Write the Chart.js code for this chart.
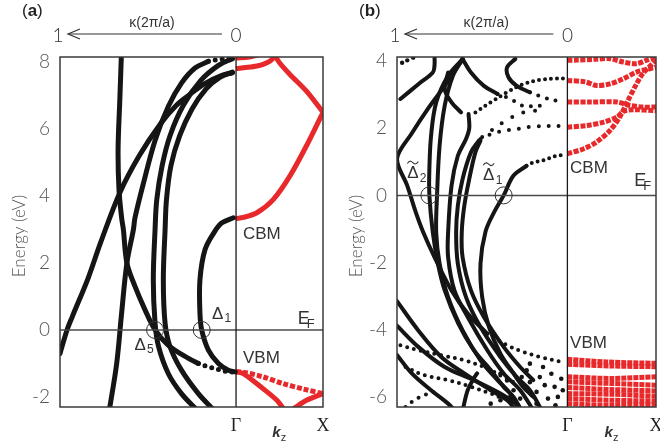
<!DOCTYPE html>
<html>
<head>
<meta charset="utf-8">
<script src="https://cdn.jsdelivr.net/npm/chart.js@4.4.1/dist/chart.umd.min.js"></script>
<style>
  html, body { margin:0; padding:0; background:#ffffff; }
  #wrap { position:relative; width:660px; height:448px; overflow:hidden; background:#fff; }
  #wrap canvas { position:absolute; top:0; }
</style>
</head>
<body>
<div id="wrap">
  <canvas id="chartA" width="330" height="448" style="left:0"></canvas>
  <canvas id="chartB" width="330" height="448" style="left:330px"></canvas>
</div>
<script>
// ================= Tick labels =================
const aTicksE = [-2, 0, 2, 4, 6, 8];
const bTicksE = [-6, -4, -2, 0, 2, 4];
const kzLabels = ['Γ', 'X'];

// ================= Panel (a) – complex bands, [kappa (2π/a), E (eV)] =================
const aLine1   = [[1,-0.7],[0.96,0],[0.93,0.4],[0.84,1.55],[0.77,2.6],[0.66,4.1],[0.55,5.2],[0.43,6.15],[0.34,6.7],[0.27,7.0],[0.18,7.35],[0.08,7.6],[0.02,7.68]];
const aBand2   = [[0.65,8.4],[0.66,6.9],[0.67,5.4],[0.665,4.2],[0.65,3.35],[0.64,3.0],[0.62,2.0],[0.574,1.3],[0.517,0.6],[0.46,0],[0.386,-0.45],[0.27,-0.85],[0.214,-1.0]];
const aBand2Dots = [[0.214,-1.0],[0.157,-1.1],[0.10,-1.18],[0.044,-1.25],[0.017,-1.26]];
const aBand3   = [[0.72,-2.4],[0.678,-1.0],[0.65,0.5],[0.62,2.0],[0.583,3.0],[0.574,3.35],[0.527,4.36],[0.46,5.66],[0.385,6.67],[0.31,7.37],[0.233,7.82],[0.157,8.02]];
const aBand3Dots = [[0.157,8.02],[0.11,8.07],[0.06,8.1],[0.02,8.12]];
const aBand4   = [[0.22,-2.4],[0.31,-1.9],[0.385,-1.3],[0.44,-0.5],[0.46,0.2],[0.47,1.5],[0.46,3.0],[0.45,3.9],[0.42,4.9],[0.375,5.8],[0.30,6.7],[0.2,7.45],[0.1,7.9],[0.02,8.1]];
const aBand5   = [[0.125,-2.4],[0.214,-1.9],[0.31,-1.2],[0.375,-0.5],[0.403,0.2],[0.413,1.5],[0.403,3.0],[0.395,3.9],[0.37,4.9],[0.32,5.8],[0.25,6.6],[0.17,7.2],[0.09,7.55],[0.02,7.7]];
const aDelta1  = [[0.015,3.35],[0.08,3.2],[0.12,2.95],[0.176,2.4],[0.205,1.5],[0.205,0.5],[0.195,0],[0.157,-0.6],[0.1,-1.0],[0.044,-1.2],[0.005,-1.25]];
// Panel (a) – real bands Γ→X, [kz (fraction of Γ-X), E (eV)]
const aCBM     = [[0,3.33],[0.084,3.36],[0.24,3.5],[0.43,3.9],[0.62,4.6],[0.81,5.5],[1,6.5]];
const aUpper1  = [[1,6.5],[0.81,7.13],[0.62,7.63],[0.5,7.98],[0.43,8.25]];
const aUpper2  = [[0,7.8],[0.084,7.83],[0.24,7.88],[0.39,8.03],[0.5,8.3]];
const aUpper3  = [[0,8.12],[0.15,8.15],[0.3,8.25]];
const aVBM1    = [[0,-1.25],[0.084,-1.26],[0.31,-1.4],[0.54,-1.6],[0.77,-1.76],[1,-1.9]];
const aVBM2    = [[1,-1.9],[0.81,-2.1],[0.66,-2.35]];
const aVBM3    = [[0,-1.25],[0.084,-1.3],[0.31,-1.75],[0.47,-2.1],[0.56,-2.4]];

// ================= Panel (b) – complex bands, [kappa, E] =================
const bTopLeft   = [[0.98,2.87],[0.875,3.31],[0.79,3.66],[0.78,3.86],[0.78,4.2]];
const bTopDots   = [[0.97,3.95],[0.94,4.02],[0.905,4.1]];
const bVertex    = [[0.615,4.06],[0.64,3.86],[0.72,3.26],[0.82,2.57],[0.91,1.87],[1,1.08],[0.94,0.29],[0.89,-0.5],[0.846,-1.1],[0.78,-1.84],[0.68,-2.83],[0.585,-3.52],[0.47,-4.12]];
const bVertexDots= [[0.47,-4.12],[0.354,-4.46],[0.26,-4.66],[0.16,-4.81],[0.03,-4.96]];
const bDelta2    = [[0.615,4.06],[0.70,3.56],[0.77,2.77],[0.80,1.78],[0.81,0.78],[0.81,0],[0.79,-1.1],[0.76,-2.03],[0.72,-2.83],[0.64,-3.82],[0.55,-4.6],[0.45,-5.2],[0.374,-5.7],[0.316,-6.0],[0.27,-6.4]];
const bFan0      = [[0.615,4.06],[0.672,3.56],[0.72,2.67],[0.75,1.48],[0.765,0],[0.77,-1.1],[0.75,-2.03],[0.70,-3.03],[0.615,-4.02],[0.51,-4.91],[0.41,-5.5],[0.335,-5.9],[0.28,-6.4]];
const bArc       = [[0.70,3.66],[0.72,3.16],[0.68,2.77],[0.624,2.47]];
const bFan1      = [[0.58,2.42],[0.576,2.0],[0.595,1.68],[0.643,1.18],[0.68,0.29],[0.70,-1.1],[0.70,-1.84],[0.663,-2.83],[0.585,-3.62],[0.47,-4.61],[0.374,-5.3],[0.277,-5.8],[0.2,-6.4]];
const bFan2      = [[0.52,1.63],[0.566,1.28],[0.615,0.49],[0.643,-0.31],[0.653,-1.1],[0.643,-2.03],[0.595,-3.03],[0.51,-3.92],[0.393,-4.81],[0.297,-5.41],[0.22,-5.8],[0.15,-6.4]];
const bFan3      = [[0.51,1.63],[0.54,1.28],[0.576,0.49],[0.605,-0.31],[0.62,-1.1],[0.615,-1.84],[0.566,-2.83],[0.49,-3.62],[0.374,-4.51],[0.277,-5.11],[0.2,-5.5]];
const bDots1     = [[0.54,2.47],[0.45,2.77],[0.354,3.07],[0.26,3.31],[0.16,3.44],[0.065,3.48],[0.02,3.48]];
const bDots2     = [[0.51,1.68],[0.45,1.82],[0.393,1.9],[0.335,1.95],[0.277,1.99],[0.2,2.05],[0.017,2.07]];
const bDots3     = [[0.50,1.74],[0.36,2.23],[0.25,2.48],[0.16,2.53]];
const bLoop      = [[0.306,4.06],[0.354,3.81],[0.345,3.51],[0.297,3.26],[0.22,3.07]];
const bLoopDots  = [[0.22,3.07],[0.143,2.92],[0.027,2.77]];
const bPeak      = [[0.615,4.06],[0.566,3.66],[0.49,3.26],[0.41,3.02]];
const bPeakDots  = [[0.41,3.02],[0.335,2.87],[0.26,2.67],[0.14,2.67]];
const bDelta1    = [[0.24,0.88],[0.316,0.59],[0.374,0],[0.43,-0.5],[0.48,-1.07],[0.51,-2.03],[0.5,-3.03],[0.46,-3.92],[0.393,-4.71],[0.316,-5.3],[0.26,-5.7],[0.2,-6.0]];
const bDelta1Dots= [[0.24,0.88],[0.2,0.98],[0.14,1.05],[0.065,1.18],[0.02,1.2]];
const bLow1      = [[1,-3.15],[0.875,-4.02],[0.74,-4.81],[0.605,-5.3],[0.45,-5.8],[0.354,-6.1],[0.3,-6.4]];
const bLow2      = [[1,-3.88],[0.875,-4.51],[0.72,-5.11],[0.55,-5.5],[0.393,-5.9],[0.3,-6.2]];
const bLow3Dots  = [[0.98,-4.46],[0.875,-4.61],[0.74,-4.76],[0.605,-4.91],[0.49,-5.11],[0.374,-5.41],[0.3,-5.6]];
const bLow4      = [[1,-4.75],[0.913,-5.3],[0.8,-5.8],[0.70,-6.2],[0.66,-6.4]];
const bLow5Dots  = [[0.95,-5.11],[0.836,-5.36],[0.70,-5.5],[0.566,-5.7],[0.45,-5.9],[0.38,-6.05]];
const bLow6Dots  = [[0.95,-6.3],[0.90,-6.1],[0.84,-5.95],[0.78,-5.85]];
const bLow7      = [[0.53,-5.3],[0.55,-5.45],[0.585,-5.8],[0.615,-6.4]];
const bScatter   = [[0.393,-5.31],[0.354,-5.51],[0.316,-5.8],[0.277,-6.05],[0.239,-5.21],[0.22,-5.56],[0.181,-5.85],[0.162,-5.41],[0.133,-5.65],[0.114,-6.05],[0.094,-5.31],[0.075,-5.7],[0.056,-6.0],[0.036,-5.46],[0.027,-5.8],[0.143,-5.11],[0.22,-5.01],[0.268,-5.41],[0.335,-6.0],[0.393,-6.1],[0.45,-6.2],[0.181,-6.2],[0.07,-6.25],[0.29,-6.25]];
// Panel (b) – real bands Γ→X, [kz, E]
const bR1 = [[0,4.02],[0.11,4.03],[0.3,4.05],[0.48,4.07],[0.63,3.97],[0.78,3.92],[0.89,4.02],[1,4.12]];
const bR2 = [[0,3.42],[0.2,3.38],[0.33,3.27],[0.48,3.32],[0.63,3.47],[0.78,3.67],[0.93,3.77],[1,3.82]];
const bR3 = [[0,2.78],[0.26,2.78],[0.56,2.78],[0.70,2.68],[0.85,2.63],[1,2.63]];
const bR4 = [[0,2.03],[0.22,2.08],[0.41,2.18],[0.56,2.33],[0.63,2.5],[0.74,2.55],[1,2.52]];
const bR5 = [[0,1.24],[0.185,1.39],[0.33,1.59],[0.48,1.93],[0.59,2.33],[0.685,2.83],[0.78,3.32],[0.85,3.62],[0.96,3.92],[1,4.02]];
const bV1 = [[0,-4.88],[0.44,-4.96],[1,-5.0]];
const bV2 = [[0,-5.03],[0.5,-5.08],[1,-5.1]];
const bV3 = [[0,-5.4],[0.5,-5.45],[1,-5.4]];
const bV4 = [[0,-5.55],[0.5,-5.6],[1,-5.65]];
const bV5 = [[0,-5.72],[0.5,-5.78],[1,-5.82]];
const bV6 = [[0,-5.9],[0.5,-5.92],[1,-5.98]];
const bV7 = [[0,-6.05],[0.5,-6.1],[1,-6.12]];
const bV8 = [[0,-6.2],[0.5,-6.25],[1,-6.22]];

// ================= helpers =================
const BLACK = '#151515', RED = '#e8292b';
const left  = pts => pts.map(p => ({x: -p[0], y: p[1]}));
const right = (pts, r) => pts.map(p => ({x: p[0] * r, y: p[1]}));
function solid(d, w){ return {data:d, showLine:true, borderColor:BLACK, borderWidth:w, pointRadius:0, tension:0.35, borderCapStyle:'round', borderJoinStyle:'round', clip:0}; }
function dotted(d, w, gap){ return {data:d, showLine:true, borderColor:BLACK, borderWidth:w, borderDash:[0, gap], borderCapStyle:'round', pointRadius:0, tension:0.35, clip:0}; }
function redLine(d, w, dash){ return {data:d, showLine:true, borderColor:RED, borderWidth:w, borderDash:dash||[], pointRadius:0, tension:0.3, borderCapStyle:'butt', clip:0}; }
function dots(d, r){ return {data:d, showLine:false, pointRadius:r, pointBackgroundColor:BLACK, pointBorderWidth:0, clip:0}; }

function subText(ctx, x, y, main, sub, size, subSize, dx, dy){
  ctx.font = size + 'px "Liberation Sans", Arial, sans-serif';
  ctx.textAlign = 'center'; ctx.textBaseline = 'middle';
  ctx.fillText(main, x, y);
  ctx.font = subSize + 'px "Liberation Sans", Arial, sans-serif';
  ctx.textAlign = 'left';
  ctx.fillText(sub, x + dx, y + dy);
}

const annot = {
  id: 'annot',
  afterDatasetsDraw(chart, args, o){
    const ctx = chart.ctx, ca = chart.chartArea, xs = chart.scales.x, ys = chart.scales.y;
    const gx = xs.getPixelForValue(0), ey = ys.getPixelForValue(0);
    ctx.save();
    ctx.strokeStyle = '#4a4a4a'; ctx.lineWidth = 1.5;
    ctx.beginPath(); ctx.moveTo(ca.left, ey); ctx.lineTo(ca.right, ey); ctx.stroke();
    ctx.strokeStyle = '#1a1a1a'; ctx.lineWidth = 1.3;
    ctx.beginPath(); ctx.moveTo(gx, ca.top); ctx.lineTo(gx, ca.bottom); ctx.stroke();
    ctx.strokeStyle = '#3a3a3a'; ctx.lineWidth = 1.5;
    ctx.strokeRect(ca.left, ca.top, ca.right - ca.left, ca.bottom - ca.top);
    ctx.strokeStyle = '#333'; ctx.lineWidth = 1;
    o.circles.forEach(k => { ctx.beginPath(); ctx.arc(xs.getPixelForValue(-k), ey, 8.5, 0, Math.PI*2); ctx.stroke(); });
    ctx.restore();
  },
  afterDraw(chart, args, o){
    const ctx = chart.ctx, ca = chart.chartArea, xs = chart.scales.x, ys = chart.scales.y;
    const gx = xs.getPixelForValue(0), x1 = xs.getPixelForValue(-1);
    ctx.save();
    ctx.fillStyle = '#333'; ctx.strokeStyle = '#333';
    // Δ labels
    o.deltas.forEach(d => {
      const x = xs.getPixelForValue(-d.k), y = ys.getPixelForValue(d.e);
      ctx.fillStyle = '#333';
      subText(ctx, x, y, 'Δ', d.sub, 17, 12, 7, 5);
      if (d.tilde){
        ctx.lineWidth = 1.1; ctx.beginPath();
        ctx.moveTo(x - 5.5, y - 10);
        ctx.bezierCurveTo(x - 3, y - 14, x - 1, y - 12, x, y - 11);
        ctx.bezierCurveTo(x + 1, y - 10, x + 3, y - 8, x + 5.5, y - 12);
        ctx.stroke();
      }
    });
    // CBM / VBM / E_F
    ctx.fillStyle = '#333';
    ctx.font = '17px "Liberation Sans", Arial, sans-serif';
    ctx.textAlign = 'left'; ctx.textBaseline = 'middle';
    o.texts.forEach(t => {
      ctx.fillText(t.s, xs.getPixelForValue(t.kz * o.rMax), ys.getPixelForValue(t.e));
    });
    const efx = xs.getPixelForValue(o.ef.kz * o.rMax), efy = ys.getPixelForValue(o.ef.e);
    ctx.font = '18px "Liberation Sans", Arial, sans-serif';
    ctx.fillText('E', efx, efy);
    ctx.font = '13px "Liberation Sans", Arial, sans-serif';
    ctx.fillText('F', efx + 9, efy + 5);
    // k_z
    const kx = xs.getPixelForValue(0.5 * o.rMax);
    ctx.font = 'italic bold 15px "Liberation Sans", Arial, sans-serif';
    ctx.textAlign = 'center';
    ctx.fillText('k', kx - 3, ca.bottom + 26);
    ctx.font = '11px "Liberation Sans", Arial, sans-serif';
    ctx.fillText('z', kx + 4, ca.bottom + 31);
    // y title
    ctx.save();
    ctx.translate(ca.left - 40, (ca.top + ca.bottom)/2 + 4);
    ctx.rotate(-Math.PI/2);
    ctx.fillStyle = '#555';
    ctx.font = '300 17px Lato, "Liberation Sans", sans-serif';
    ctx.textAlign = 'center'; ctx.textBaseline = 'middle';
    ctx.fillText('Energy (eV)', 0, 0);
    ctx.restore();
    // header (a)/(b)
    ctx.fillStyle = '#222'; ctx.textBaseline = 'middle'; ctx.textAlign = 'left';
    let hx = ca.left - 38;
    ctx.font = '17px "Liberation Sans", Arial, sans-serif';
    ctx.fillText('(', hx, 11); hx += ctx.measureText('(').width;
    ctx.font = 'bold 17px "Liberation Sans", Arial, sans-serif';
    ctx.fillText(o.letter, hx, 11); hx += ctx.measureText(o.letter).width;
    ctx.font = '17px "Liberation Sans", Arial, sans-serif';
    ctx.fillText(')', hx, 11);
    // kappa arrow
    ctx.fillStyle = '#333'; ctx.textAlign = 'center';
    ctx.font = '300 19px Lato, "Liberation Sans", sans-serif';
    ctx.fillText('1', x1 - 2, 36);
    ctx.fillText('0', gx, 36);
    ctx.font = '14px "Liberation Sans", Arial, sans-serif';
    ctx.fillText('κ(2π/a)', (x1 + gx)/2 + 4, 23);
    ctx.strokeStyle = '#333'; ctx.lineWidth = 1.2;
    const ax0 = x1 + 8, ax1 = gx - 14;
    ctx.beginPath(); ctx.moveTo(ax0, 34); ctx.lineTo(ax1, 34); ctx.stroke();
    ctx.beginPath(); ctx.moveTo(ax0 + 12, 29); ctx.lineTo(ax0, 34); ctx.lineTo(ax0 + 12, 39); ctx.stroke();
    ctx.restore();
  }
};

function makeChart(id, p){
  return new Chart(document.getElementById(id), {
    type: 'scatter',
    data: { datasets: p.datasets },
    plugins: [annot],
    options: {
      responsive: false, maintainAspectRatio: false, animation: false, events: [],
      layout: { padding: { top: 57, right: p.padRight, left: 0, bottom: 0 } },
      plugins: { legend: { display: false }, tooltip: { enabled: false }, annot: p.annot },
      scales: {
        x: {
          type: 'linear', min: -1, max: p.rMax,
          grid: { display: false, drawTicks: false }, border: { display: false },
          afterBuildTicks: s => { s.ticks = [{value: 0}, {value: p.rMax}]; },
          afterFit: s => { s.height = 41; s.paddingLeft = 0; s.paddingRight = 0; },
          ticks: {
            autoSkip: false, maxRotation: 0, padding: 8, color: '#222',
            font: { family: '"Liberation Serif", "DejaVu Serif", serif', size: 18 },
            callback: v => (v === 0 ? kzLabels[0] : kzLabels[1])
          }
        },
        y: {
          type: 'linear', min: p.yMin, max: p.yMax,
          grid: { display: false, drawTicks: false }, border: { display: false },
          afterBuildTicks: s => { s.ticks = p.ticks.map(v => ({value: v})); },
          afterFit: s => { s.width = p.axisW; s.paddingTop = 0; s.paddingBottom = 0; },
          ticks: { padding: 10, color: '#555', font: { family: 'Lato, "Liberation Sans", sans-serif', size: 19, weight: '300' } }
        }
      }
    }
  });
}

// ================= Panel (a) =================
const rA = 0.494;
const wA = 5;
makeChart('chartA', {
  rMax: rA, yMin: -2.3, yMax: 8.15, axisW: 60, padRight: 7, ticks: aTicksE,
  datasets: [
    solid(left(aLine1), wA), solid(left(aBand2), wA), dotted(left(aBand2Dots), wA, 7),
    solid(left(aBand3), wA), dotted(left(aBand3Dots), wA, 7),
    solid(left(aBand4), wA), solid(left(aBand5), wA), solid(left(aDelta1), wA),
    redLine(right(aCBM, rA), 5), redLine(right(aUpper1, rA), 5), redLine(right(aUpper2, rA), 5),
    redLine(right(aUpper3, rA), 5), redLine(right(aVBM1, rA), 5, [5, 2]), redLine(right(aVBM2, rA), 5),
    redLine(right(aVBM3, rA), 5)
  ],
  annot: {
    letter: 'a', rMax: rA, circles: [0.46, 0.195],
    deltas: [{k: 0.545, e: -0.45, sub: '5'}, {k: 0.105, e: 0.48, sub: '1'}],
    texts: [{s: 'CBM', kz: 0.08, e: 2.85}, {s: 'VBM', kz: 0.08, e: -0.85}],
    ef: {kz: 0.71, e: 0.32}
  }
});

// ================= Panel (b) =================
const rB = 0.52;
const wB = 4;
makeChart('chartB', {
  rMax: rB, yMin: -6.3, yMax: 4.12, axisW: 67, padRight: 1, ticks: bTicksE,
  datasets: [
    solid(left(bTopLeft), wB), dots(left(bTopDots), 2.2),
    solid(left(bVertex), wB), dotted(left(bVertexDots), wB, 7),
    solid(left(bDelta2), wB), solid(left(bFan0), wB), solid(left(bArc), wB),
    solid(left(bFan1), wB), solid(left(bFan2), wB), solid(left(bFan3), wB),
    dotted(left(bDots1), wB, 6), dotted(left(bDots2), wB, 10), dotted(left(bDots3), wB, 12),
    solid(left(bLoop), wB), dotted(left(bLoopDots), wB, 9),
    solid(left(bPeak), wB), dotted(left(bPeakDots), wB, 9),
    solid(left(bDelta1), wB), dotted(left(bDelta1Dots), wB, 6),
    solid(left(bLow1), wB), solid(left(bLow2), wB), dotted(left(bLow3Dots), wB, 7),
    solid(left(bLow4), wB), dotted(left(bLow5Dots), wB, 7), dotted(left(bLow6Dots), wB, 8),
    solid(left(bLow7), wB), dots(left(bScatter), 2.3),
    redLine(right(bR1, rB), 5, [5, 1.5]), redLine(right(bR2, rB), 5, [5, 1.5]),
    redLine(right(bR3, rB), 5, [5, 1.5]), redLine(right(bR4, rB), 5, [5, 1.5]),
    redLine(right(bR5, rB), 5, [5, 1.5]),
    redLine(right(bV1, rB), 5, [5, 1]), redLine(right(bV2, rB), 5, [5, 1]),
    redLine(right(bV3, rB), 5, [5, 1]), redLine(right(bV4, rB), 5, [5, 1]),
    redLine(right(bV5, rB), 5, [5, 1]), redLine(right(bV6, rB), 5, [5, 1]),
    redLine(right(bV7, rB), 5, [5, 1]), redLine(right(bV8, rB), 5, [5, 1])
  ],
  annot: {
    letter: 'b', rMax: rB, circles: [0.81, 0.374],
    deltas: [{k: 0.907, e: 0.65, sub: '2', tilde: true}, {k: 0.462, e: 0.6, sub: '1', tilde: true}],
    texts: [{s: 'CBM', kz: 0.03, e: 0.8}, {s: 'VBM', kz: 0.03, e: -4.4}],
    ef: {kz: 0.755, e: 0.42}
  }
});
</script>
</body>
</html>
